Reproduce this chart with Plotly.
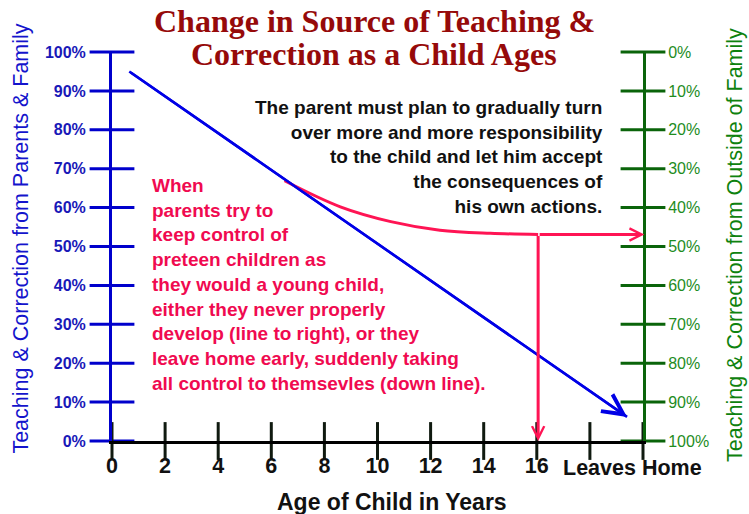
import plotly.graph_objects as go

# ---------------- data ----------------
age_range = [0, 20]
pct_range = [0, 100]
age_ticks = [0, 2, 4, 6, 8, 10, 12, 14, 16, 18, 20]
age_tick_labels = ["0", "2", "4", "6", "8", "10", "12", "14", "16", "", ""]
leaves_home_label = "Leaves Home"
leaves_home_age = 19.6

pct_ticks = [0, 10, 20, 30, 40, 50, 60, 70, 80, 90, 100]
parent_labels = ["0%", "10%", "20%", "30%", "40%", "50%", "60%", "70%", "80%", "90%", "100%"]
outside_labels = ["0%", "10%", "20%", "30%", "40%", "50%", "60%", "70%", "80%", "90%", "100%"]

# ideal trend (parents' share of teaching & correction)
trend_age = [0.65, 19.4]
trend_pct = [95.0, 6.2]

# over-controlling parents curve
control_age = [6.5, 8.6, 10.5, 12.35, 14.25, 16.05]
control_pct = [66.9, 60.2, 56.4, 54.2, 53.4, 53.1]
never_develop_end_age = 20.05
leave_early_end_pct = 0.0

title_lines = ["Change in Source of Teaching &", "Correction as a Child Ages"]
left_title = "Teaching & Correction from Parents & Family"
right_title = "Teaching & Correction from Outside of Family"
x_title = "Age of Child in Years"
note_black = ("The parent must plan to gradually turn<br>over more and more responsibility<br>"
              "to the child and let him accept<br>the consequences of<br>his own actions.")
note_red = ("When<br>parents try to<br>keep control of<br>preteen children as<br>"
            "they would a young child,<br>either they never properly<br>"
            "develop (line to right), or they<br>leave home early, suddenly taking<br>"
            "all control to themsevles (down line).")

# ---------------- styles ----------------
BLUE_AXIS = "#0000CC"
BLUE_LINE = "#0000E6"
BLUE_TEXT = "#1818B8"
BLUE_TITLE = "#1414CC"
GREEN_AXIS = "#0A640A"
GREEN_TEXT = "#1E8C1E"
GREEN_TITLE = "#0E820E"
RED_LINE = "#FF1454"
RED_TEXT = "#F00A50"
TITLE_RED = "#960A0A"
SANS = "Liberation Sans, Arial, sans-serif"
SERIF = "Liberation Serif, Times New Roman, serif"

fig = go.Figure()

# tick marks crossing the axes (built from the tick arrays)
fig.add_trace(go.Scatter(
    x=[age_range[0]] * len(pct_ticks), y=pct_ticks, mode="markers", cliponaxis=False,
    marker=dict(symbol="line-ew", size=32, line=dict(width=3, color=BLUE_AXIS)),
    hoverinfo="skip", showlegend=False))
fig.add_trace(go.Scatter(
    x=[age_range[1]] * len(pct_ticks), y=pct_ticks, mode="markers", cliponaxis=False,
    marker=dict(symbol="line-ew", size=32, line=dict(width=3, color=GREEN_AXIS)),
    hoverinfo="skip", showlegend=False))
fig.add_trace(go.Scatter(
    x=age_ticks, y=[pct_range[0]] * len(age_ticks), mode="markers", cliponaxis=False,
    marker=dict(symbol="line-ns", size=27, line=dict(width=3, color="#101A10")),
    hoverinfo="skip", showlegend=False))

# trend line
fig.add_trace(go.Scatter(
    x=trend_age, y=trend_pct, mode="lines", cliponaxis=False,
    line=dict(color=BLUE_LINE, width=2.5), hoverinfo="skip", showlegend=False))

# over-control curve
fig.add_trace(go.Scatter(
    x=control_age, y=control_pct, mode="lines", cliponaxis=False,
    line=dict(color=RED_LINE, width=3, shape="spline", smoothing=1.0),
    hoverinfo="skip", showlegend=False))

# dummy trace for right axis
fig.add_trace(go.Scatter(x=[None], y=[None], yaxis="y2", showlegend=False, hoverinfo="skip"))

annotations = []
# arrow heads / arrow segments
annotations.append(dict(x=trend_age[-1], y=trend_pct[-1], ax=trend_age[0], ay=trend_pct[0],
                        xref="x", yref="y", axref="x", ayref="y", text="", showarrow=True,
                        arrowhead=5, arrowsize=1.6, arrowwidth=2.5, arrowcolor=BLUE_LINE))
annotations.append(dict(x=never_develop_end_age, y=control_pct[-1], ax=control_age[-1], ay=control_pct[-1],
                        xref="x", yref="y", axref="x", ayref="y", text="", showarrow=True,
                        arrowhead=5, arrowsize=0.8, arrowwidth=3, arrowcolor=RED_LINE))
annotations.append(dict(x=control_age[-1], y=leave_early_end_pct, ax=control_age[-1], ay=control_pct[-1],
                        xref="x", yref="y", axref="x", ayref="y", text="", showarrow=True,
                        arrowhead=5, arrowsize=0.8, arrowwidth=3, arrowcolor=RED_LINE))

# titles
annotations.append(dict(text="<b>" + title_lines[0] + "</b>", xref="paper", yref="paper",
                        x=0.4935, y=1.0797, xanchor="center", yanchor="middle", showarrow=False,
                        font=dict(family=SERIF, size=32, color=TITLE_RED)))
annotations.append(dict(text="<b>" + title_lines[1] + "</b>", xref="paper", yref="paper",
                        x=0.4935, y=0.9949, xanchor="center", yanchor="middle", showarrow=False,
                        font=dict(family=SERIF, size=32, color=TITLE_RED)))
annotations.append(dict(text=left_title, xref="paper", yref="paper", x=0, xshift=-90.5,
                        y=0.519, textangle=-90, xanchor="center", yanchor="middle", showarrow=False,
                        font=dict(family=SANS, size=21.5, color=BLUE_TITLE)))
annotations.append(dict(text=right_title, xref="paper", yref="paper", x=1, xshift=92,
                        y=0.504, textangle=-90, xanchor="center", yanchor="middle", showarrow=False,
                        font=dict(family=SANS, size=21.5, color=GREEN_TITLE)))
annotations.append(dict(text="<b>" + x_title + "</b>", xref="paper", yref="paper", x=0.527,
                        y=-0.158, xanchor="center", yanchor="middle", showarrow=False,
                        font=dict(family=SANS, size=23, color="#111111")))
annotations.append(dict(text="<b>" + leaves_home_label + "</b>", xref="x", yref="paper",
                        x=leaves_home_age, y=-0.069, xanchor="center", yanchor="middle", showarrow=False,
                        font=dict(family=SANS, size=21.5, color="#111111")))
# notes
annotations.append(dict(text="<b>" + note_black + "</b>", xref="x", yref="y", x=18.55, y=72.9,
                        xanchor="right", yanchor="middle", align="right", showarrow=False,
                        font=dict(family=SANS, size=19, color="#111111")))
annotations.append(dict(text="<b>" + note_red + "</b>", xref="x", yref="y", x=1.43, y=40.2,
                        xanchor="left", yanchor="middle", align="left", showarrow=False,
                        font=dict(family=SANS, size=19, color=RED_TEXT)))

fig.update_layout(
    width=749, height=514,
    margin=dict(l=112, r=106, t=52, b=73, autoexpand=False),
    paper_bgcolor="white", plot_bgcolor="white",
    showlegend=False,
    xaxis=dict(range=age_range, tickvals=age_ticks, ticktext=age_tick_labels,
               showgrid=False, zeroline=False, showline=True, linecolor="#000000", linewidth=3,
               ticks="", ticklabelstandoff=3,
               tickfont=dict(family=SANS, size=21.5, color="#111111", weight="bold")),
    yaxis=dict(range=pct_range, tickvals=pct_ticks, ticktext=parent_labels,
               showgrid=False, zeroline=False, showline=True, linecolor=BLUE_AXIS, linewidth=3,
               ticks="", ticklabelstandoff=20,
               tickfont=dict(family=SANS, size=16, color=BLUE_TEXT, weight="bold")),
    yaxis2=dict(range=pct_range[::-1], tickvals=pct_ticks, ticktext=outside_labels,
                overlaying="y", side="right", anchor="x",
                showgrid=False, zeroline=False, showline=True, linecolor=GREEN_AXIS, linewidth=3,
                ticks="", ticklabelstandoff=19,
                tickfont=dict(family=SANS, size=16, color=GREEN_TEXT)),
    annotations=annotations,
)

fig.write_html("out.html", config={"displayModeBar": False},
               post_script="document.body.style.margin='0px';")
